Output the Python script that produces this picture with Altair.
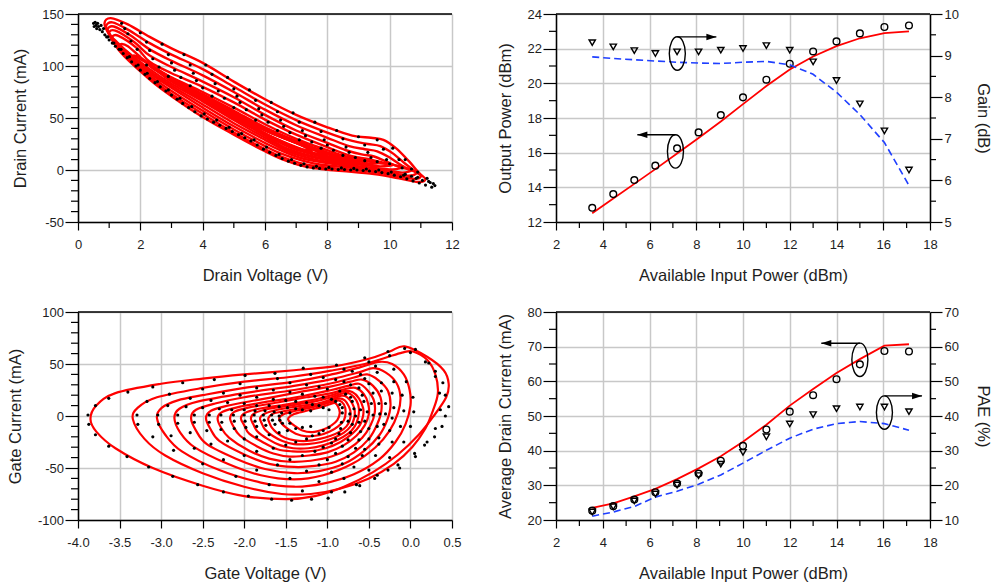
import altair as alt
import pandas as pd

W, H = 374, 208
FONT = "Liberation Sans"
INK = "#1e1e1e"

# ---------------- tick values ----------------
dv_major = [0, 2, 4, 6, 8, 10, 12]
dv_minor = [1, 3, 5, 7, 9, 11]
di_major = [-50, 0, 50, 100, 150]
di_minor = [-40, -30, -20, -10, 10, 20, 30, 40, 60, 70, 80, 90, 110, 120, 130, 140]
gv_major = [-4.0, -3.5, -3.0, -2.5, -2.0, -1.5, -1.0, -0.5, 0.0, 0.5]
gi_major = [-100, -50, 0, 50, 100]
gi_minor = [-90, -80, -70, -60, -40, -30, -20, -10, 10, 20, 30, 40, 60, 70, 80, 90]
pin_major = [2, 4, 6, 8, 10, 12, 14, 16, 18]
pin_minor = [3, 5, 7, 9, 11, 13, 15, 17]
po_major = [12, 14, 16, 18, 20, 22, 24]
po_minor = [13, 15, 17, 19, 21, 23]
g_major = [5, 6, 7, 8, 9, 10]
g_minor = [5.5, 6.5, 7.5, 8.5, 9.5]
idc_major = [20, 30, 40, 50, 60, 70, 80]
idc_minor = [25, 35, 45, 55, 65, 75]
pae_major = [10, 20, 30, 40, 50, 60, 70]
pae_minor = [15, 25, 35, 45, 55, 65]

# ---------------- drain load lines (simulated loops, V / mA) ----------------
drain_sim_loops = [
    [(0.85,141),(1.05,146),(1.6,140),(2.3,128),(3.0,117),(4.0,103),(5.0,85),(6.0,68),(7.0,53),(8.0,41),(8.8,33),(9.4,31),(9.8,29),(10.2,21),(10.6,9),(10.95,-3),(11.15,-9),(10.9,-11.5),(10.3,-8),(9.5,-4),(8.5,-1),(7.8,1),(7.2,4),(6.5,11),(6.0,18),(5.0,34),(4.0,51),(3.0,71),(2.3,87),(1.4,112),(1.0,130)],
    [(0.9,138),(1.1,142),(1.6,135),(2.3,122),(3.0,111),(4.0,97),(5.0,80),(6.0,63),(7.0,48),(8.0,36),(8.8,28),(9.3,25),(9.7,23),(10.1,16),(10.5,6),(10.85,-2),(11.0,-6),(10.8,-8.5),(10.2,-5.5),(9.5,-2),(8.5,1),(7.8,3),(7.2,6),(6.5,13),(6.0,20),(5.0,36),(4.0,54),(3.0,73),(2.3,89),(1.5,111),(1.05,129)],
    [(0.95,135),(1.15,138),(1.7,129),(2.3,116),(3.0,105),(4.0,91),(5.0,75),(6.0,58),(7.0,43),(8.0,31),(8.7,23),(9.2,20),(9.6,18),(10.0,12),(10.4,4),(10.75,-1),(10.87,-3),(10.6,-5.5),(10.0,-2.5),(9.3,0),(8.5,3),(7.8,5),(7.2,9),(6.5,16),(6.0,23),(5.0,39),(4.0,57),(3.0,76),(2.3,91),(1.55,111),(1.1,127)],
    [(1.0,132),(1.2,134),(1.8,123),(2.3,110),(3.0,99),(4.0,85),(5.0,70),(6.0,53),(7.0,38),(8.0,26),(8.6,19),(9.1,15),(9.5,13),(9.9,8),(10.3,3),(10.7,0),(10.4,-2.5),(9.8,0),(9.1,2),(8.4,5),(7.7,8),(7.1,12),(6.5,19),(6.0,26),(5.0,42),(4.0,60),(3.0,79),(2.3,93),(1.6,111),(1.15,125)],
    [(1.1,128),(1.3,129),(1.9,117),(2.3,104),(3.0,93),(4.0,80),(5.0,65),(6.0,48.5),(7.0,34),(8.0,22),(8.6,15),(9.0,12),(9.4,10),(9.8,7),(10.2,4.5),(10.44,3),(10.1,0.5),(9.5,2),(8.9,4),(8.2,7),(7.6,10),(7.0,15),(6.5,21),(6.0,29),(5.0,45),(4.0,63),(3.0,81),(2.3,95),(1.7,110),(1.25,123)],
    [(1.35,120),(1.6,119),(2.3,101),(3.0,89),(4.0,75),(5.0,60),(6.0,44),(7.0,30),(8.0,19),(8.6,13),(9.1,10),(9.6,7),(10.1,5),(9.7,3.5),(9.1,5),(8.5,7),(7.9,10),(7.3,14),(6.7,20),(6.0,31),(5.0,48),(4.0,66),(3.0,83),(2.3,97),(1.7,111)],
    [(1.8,110),(2.1,106),(2.6,96),(3.0,88),(4.0,73),(5.0,57),(6.0,41),(7.0,28),(8.0,17),(8.7,11),(9.3,8.5),(9.7,7),(9.3,6),(8.7,7.5),(8.0,10),(7.3,15),(6.6,22),(6.0,33),(5.0,50),(4.0,68),(3.0,85),(2.3,101)],
    [(2.3,100),(2.7,94),(3.2,85),(4.0,72),(5.0,56),(6.0,40),(7.0,27),(8.0,16),(8.8,10),(9.3,8),(8.8,8.5),(8.1,11),(7.4,16),(6.7,23),(6.0,34),(5.0,51),(4.0,69),(3.2,84),(2.7,92)],
    [(2.8,90),(3.2,84),(4.0,71),(5.0,55),(6.0,39),(7.0,26),(8.0,15.5),(8.9,9.5),(8.3,11.5),(7.5,16),(6.8,23),(6.0,35),(5.0,52),(4.0,69),(3.3,81)],
    [(3.3,80),(4.0,70),(5.0,54),(6.0,38),(7.0,26),(7.9,16),(8.5,11),(7.9,13),(7.2,19),(6.5,27),(6.0,35),(5.0,52),(4.0,68)],
    [(3.8,72),(4.5,62),(5.5,46),(6.5,32),(7.5,20),(8.0,14),(7.5,17),(6.8,24),(6.0,35),(5.0,51),(4.3,64)],
    [(4.4,62),(5.0,54),(6.0,38),(7.0,26),(7.5,18),(7.0,22),(6.0,35),(5.0,50)],
]

# measured drain samples (V, mA)
drain_meas_edge = [
    (0.5,141),(0.52,138),(0.55,142),(0.58,139),(0.6,136),(0.63,141),(0.66,138),(0.7,135),(0.74,139),(0.78,133),
    (0.82,136),(0.86,130),(0.92,128),(1.0,125),(1.1,122),(1.2,119),(1.32,116),(1.45,112),(1.58,108),(1.72,104),
    (1.86,100),(2.0,96),(2.15,92),(2.3,88),(2.47,84),(2.64,80),(2.82,76),(3.0,72),(3.18,68),(3.36,64),(3.55,60),
    (3.75,56),(3.95,52),(4.15,49),(4.35,46),(4.55,43),(4.75,40),(4.95,37),(5.15,34),(5.35,31),(5.55,28),(5.75,24),
    (5.95,20),(6.15,17),(6.35,14),(6.55,11),(6.75,8.5),(6.95,6.5),(7.15,4.5),(7.35,3),(7.55,2),(7.75,1.5),(7.95,1),
    (8.15,1),(8.35,0.5),(8.55,0.5),(8.75,0),(8.95,0),(9.15,-0.5),(9.35,-1),(9.55,-1.5),(9.75,-2.5),(9.95,-3.5),
    (10.15,-5),(10.35,-6.5),(10.55,-8.5),(10.75,-10.5),(10.95,-12.5),(11.15,-14.5),(11.35,-16.5),
    (0.96,128),(1.15,122),(1.38,116),(1.65,109),(1.93,101),(2.22,93),(2.55,85),(2.9,77),(3.27,69),(3.65,61),
    (4.05,54),(4.45,48),(4.85,41),(5.25,35),(5.65,29),(6.05,22),(6.45,15),(6.85,10),(7.25,6),(7.65,3.5),(8.05,2.5),
    (8.45,2),(8.85,1.5),(9.25,1),(9.65,0),(10.05,-2),(10.45,-5),(10.85,-8),(11.25,-11),(11.4,-13),
    (11.2,-8),(11.3,-12),(11.45,-15),(11.05,-10),(10.9,-7),(10.7,-6),(10.5,-4),
]
drain_meas_upper = [
    (1.4,141),(2.0,132),(2.7,121),(3.4,111),(4.1,101),(4.8,89),(5.5,77),(6.2,65),(6.9,55),(7.6,46),(8.3,38),(9.0,32),(9.6,29),(10.1,21),(10.5,10),(10.9,-2),
    (1.5,136),(2.2,123),(2.9,111),(3.6,101),(4.3,92),(5.0,78),(5.7,67),(6.4,56),(7.1,46),(7.8,37),(8.5,30),(9.2,24),(9.8,20),(10.3,10),(10.7,1),
    (1.6,131),(2.3,115),(3.0,103),(3.7,93),(4.4,83),(5.1,71),(5.8,59),(6.5,48),(7.2,38),(7.9,29),(8.6,22),(9.3,17),(9.9,10),(10.4,2),
    (1.7,124),(2.4,107),(3.1,96),(3.8,86),(4.5,76),(5.2,65),(5.9,53),(6.6,42),(7.3,33),(8.0,24),(8.7,17),(9.4,12),(10.0,6),
    (1.9,116),(2.6,99),(3.3,89),(4.0,79),(4.7,69),(5.4,58),(6.1,46),(6.8,36),(7.5,27),(8.2,19),(8.9,12),(9.6,8),
    (2.2,101),(2.9,90),(3.6,81),(4.3,71),(5.0,60),(5.7,48),(6.4,38),(7.1,29),(7.8,21),(8.5,14),(9.2,9),
]

# ---------------- gate loops (simulated, V / mA) ----------------
gate_sim_loops = [
    [(-3.85,-3),(-3.78,10),(-3.55,22),(-3.0,31),(-2.5,36),(-2.0,40),(-1.4,44),(-0.9,48),(-0.5,55),(-0.25,62),(-0.07,67),(0.2,57),(0.4,44),(0.46,31),(0.43,18),(0.28,0),(0.1,-18),(-0.15,-37),(-0.45,-54),(-0.8,-68),(-1.15,-77),(-1.5,-80),(-2.0,-77),(-2.5,-67),(-3.1,-50),(-3.55,-31),(-3.78,-15)],
    [(-3.34,-3),(-3.28,8),(-3.05,18),(-2.5,27),(-2.0,33),(-1.4,38),(-0.93,44),(-0.55,50),(-0.3,56),(-0.1,61),(0.03,62),(0.2,54),(0.3,40),(0.33,22),(0.27,5),(0.18,-12),(0.02,-30),(-0.2,-46),(-0.5,-60),(-0.85,-70),(-1.2,-75),(-1.55,-75),(-2.0,-68),(-2.5,-55),(-2.95,-38),(-3.2,-22)],
    [(-3.05,-2),(-2.99,8),(-2.8,15),(-2.5,20),(-2.0,27),(-1.4,33),(-0.95,40),(-0.6,47),(-0.38,52),(-0.22,50),(-0.08,40),(-0.01,25),(0.0,10),(-0.06,-8),(-0.18,-25),(-0.38,-42),(-0.68,-56),(-1.05,-65),(-1.4,-68),(-1.8,-64),(-2.3,-52),(-2.75,-34),(-2.95,-18)],
    [(-2.84,-2),(-2.78,7),(-2.55,14),(-2.0,22),(-1.4,29),(-0.95,35.5),(-0.62,42),(-0.45,46),(-0.3,42),(-0.17,32),(-0.12,18),(-0.15,3),(-0.25,-14),(-0.42,-30),(-0.7,-46),(-1.05,-57),(-1.4,-61),(-1.8,-57),(-2.2,-46),(-2.6,-30),(-2.77,-16)],
    [(-2.64,-2),(-2.58,6),(-2.35,12),(-2.0,18),(-1.4,25),(-0.95,31.5),(-0.68,37),(-0.52,40),(-0.38,34),(-0.27,24),(-0.24,10),(-0.28,-4),(-0.37,-18),(-0.55,-33),(-0.8,-46),(-1.1,-53),(-1.4,-55),(-1.75,-51),(-2.1,-41),(-2.45,-27),(-2.58,-14)],
    [(-2.46,-2),(-2.4,5),(-2.2,10),(-1.8,16),(-1.4,22),(-0.95,28.5),(-0.72,33),(-0.58,35),(-0.45,29),(-0.36,18),(-0.35,5),(-0.4,-8),(-0.5,-22),(-0.68,-35),(-0.9,-44),(-1.15,-48),(-1.4,-49),(-1.7,-46),(-2.0,-37),(-2.3,-24),(-2.41,-12)],
    [(-2.32,-2),(-2.26,4),(-2.05,9),(-1.7,14),(-1.3,19),(-0.95,25),(-0.75,29),(-0.62,31),(-0.52,25),(-0.44,15),(-0.43,3),(-0.48,-9),(-0.58,-21),(-0.75,-32),(-0.95,-39),(-1.2,-43),(-1.45,-44),(-1.7,-41),(-1.95,-33),(-2.18,-21),(-2.28,-11)],
    [(-2.17,-2),(-2.12,4),(-1.95,8),(-1.6,13),(-1.25,18),(-0.95,22),(-0.78,26),(-0.66,27),(-0.56,21),(-0.51,12),(-0.5,2),(-0.55,-9),(-0.65,-19),(-0.8,-28),(-1.0,-35),(-1.22,-38),(-1.45,-39),(-1.65,-36),(-1.85,-29),(-2.05,-19),(-2.13,-10)],
    [(-2.04,-2),(-1.99,3),(-1.82,7),(-1.5,11),(-1.2,15),(-0.95,20),(-0.8,24),(-0.7,23),(-0.62,17),(-0.57,8),(-0.57,0),(-0.61,-9),(-0.7,-17),(-0.84,-25),(-1.02,-31),(-1.22,-34),(-1.42,-34),(-1.6,-32),(-1.78,-25),(-1.94,-17),(-2.0,-9)],
    [(-1.92,-2),(-1.87,3),(-1.7,7),(-1.45,10),(-1.15,14),(-0.95,18),(-0.8,22),(-0.72,21),(-0.65,15),(-0.62,7),(-0.63,-2),(-0.67,-10),(-0.75,-17),(-0.88,-23),(-1.04,-28),(-1.23,-31),(-1.41,-31),(-1.57,-28),(-1.72,-22),(-1.84,-15),(-1.89,-8)],
    [(-1.81,-2),(-1.76,2),(-1.6,6),(-1.38,9),(-1.12,12),(-0.95,16),(-0.83,19.5),(-0.76,18),(-0.7,12),(-0.67,5),(-0.68,-3),(-0.72,-10),(-0.8,-16),(-0.92,-21),(-1.07,-25),(-1.24,-27),(-1.4,-27),(-1.54,-24),(-1.66,-19),(-1.75,-13),(-1.79,-7)],
    [(-1.71,-2),(-1.66,2),(-1.5,5),(-1.3,8),(-1.1,11),(-0.95,14.5),(-0.86,17),(-0.79,15),(-0.74,9),(-0.72,3),(-0.73,-4),(-0.77,-10),(-0.85,-15),(-0.96,-19),(-1.09,-22),(-1.25,-24),(-1.39,-23.5),(-1.51,-21),(-1.61,-16),(-1.67,-11),(-1.7,-6)],
    [(-1.58,-2),(-1.52,2),(-1.38,5),(-1.2,8),(-1.05,11),(-0.93,14),(-0.86,15),(-0.8,11),(-0.78,4),(-0.8,-4),(-0.87,-10),(-0.97,-15),(-1.1,-18.5),(-1.25,-19.5),(-1.38,-17),(-1.5,-11),(-1.56,-6)],
    [(-1.47,-2),(-1.4,2),(-1.25,5),(-1.1,8),(-0.98,11),(-0.91,12.5),(-0.87,9),(-0.85,3),(-0.88,-4),(-0.95,-9),(-1.05,-13),(-1.18,-15.5),(-1.3,-14),(-1.4,-9),(-1.46,-5)],
]

# measured gate samples (V, mA)
gate_meas_points = [
    (-3.88,1),(-3.87,-8),(-3.79,10),(-3.79,-18),(-3.63,17),(-3.63,-29),(-3.4,23),(-3.41,-39),(-3.1,28),(-3.15,-49),(-2.74,32),(-2.86,-58),(-2.36,35),(-2.56,-66),(-1.99,39),(-2.25,-73),(-1.63,41),(-1.95,-77),(-1.29,46),(-1.67,-80),(-0.89,49),(-1.43,-81),(-0.55,56),(-1.19,-80),(-0.27,62),(-0.99,-79),(-0.07,65),(-0.79,-73),(0.06,64),(-0.61,-67),(0.22,51),(-0.43,-60),(0.3,43),(-0.27,-52),(0.39,32),(-0.13,-50),(0.42,20),(0.06,-39),(0.46,9),(0.17,-28),(0.42,0),(0.29,-20),(0.38,-10),
    (-3.29,1),(-3.28,-8),(-3.17,14),(-3.1,-20),(-2.9,21),(-2.85,-33),(-2.5,26),(-2.5,-46),(-2.05,31),(-2.1,-58),(-1.6,36),(-1.7,-66),(-1.2,40),(-1.3,-72),(-0.8,45),(-0.95,-73),(-0.5,52),(-0.65,-66),(-0.25,58),(-0.4,-57),(0.0,61),(-0.15,-47),(0.18,52),(0.05,-36),(0.3,38),(0.2,-25),(0.35,22),(0.3,-12),(0.36,6),
    (-3.04,1),(-3.03,-8),(-2.92,10),(-2.88,-19),(-2.65,17),(-2.6,-31),(-2.25,22),(-2.25,-42),(-1.85,27),(-1.85,-52),(-1.45,32),(-1.45,-60),(-1.05,37),(-1.1,-63),(-0.7,43),(-0.8,-60),(-0.42,48),(-0.5,-52),(-0.2,45),(-0.25,-40),(-0.05,33),(-0.08,-25),(0.03,18),(0.0,-10),(0.04,4),
    (-2.8,1),(-2.8,-7),(-2.7,9),(-2.65,-16),(-2.4,15),(-2.4,-27),(-2.05,20),(-2.0,-38),(-1.65,25),(-1.6,-47),(-1.25,30),(-1.25,-53),(-0.9,35),(-0.95,-54),(-0.6,40),(-0.68,-49),(-0.4,42),(-0.42,-38),(-0.2,33),(-0.22,-25),(-0.1,20),(-0.12,-10),(-0.08,5),
    (-2.6,1),(-2.6,-6),(-2.5,8),(-2.45,-14),(-2.2,13),(-2.2,-24),(-1.85,18),(-1.85,-34),(-1.45,23),(-1.45,-42),(-1.1,28),(-1.1,-47),(-0.8,33),(-0.82,-46),(-0.55,36),(-0.58,-38),(-0.35,32),(-0.38,-27),(-0.22,22),(-0.25,-14),(-0.2,8),(-0.22,-2),
    (-2.42,1),(-2.42,-6),(-2.3,7),(-2.28,-13),(-2.0,12),(-2.0,-22),(-1.65,16),(-1.65,-31),(-1.3,21),(-1.3,-38),(-1.0,26),(-1.0,-42),(-0.72,30),(-0.75,-39),(-0.5,31),(-0.55,-32),(-0.35,24),(-0.38,-21),(-0.3,12),(-0.32,-8),(-0.3,2),
    (-2.28,1),(-2.27,-6),(-2.15,6),(-2.12,-12),(-1.85,10),(-1.85,-20),(-1.5,15),(-1.5,-28),(-1.15,19),(-1.15,-34),(-0.85,24),(-0.9,-36),(-0.62,27),(-0.66,-31),(-0.45,22),(-0.5,-22),(-0.38,12),(-0.4,-10),(-0.37,2),
    (-2.13,1),(-2.12,-5),(-2.0,6),(-1.98,-11),(-1.7,10),(-1.7,-18),(-1.38,14),(-1.38,-25),(-1.05,18),(-1.05,-30),(-0.78,21),(-0.82,-29),(-0.58,20),(-0.62,-23),(-0.47,12),(-0.5,-12),(-0.45,1),
    (-2.0,1),(-1.99,-5),(-1.87,5),(-1.85,-10),(-1.58,9),(-1.58,-16),(-1.25,13),(-1.25,-22),(-0.95,16),(-0.95,-26),(-0.72,18),(-0.75,-23),(-0.56,14),(-0.6,-15),(-0.52,4),(-0.55,-5),
    (-1.88,1),(-1.87,-5),(-1.75,5),(-1.74,-9),(-1.48,8),(-1.48,-14),(-1.18,11),(-1.18,-19),(-0.9,14),(-0.9,-22),(-0.7,14),(-0.72,-16),(-0.6,6),(-0.62,-6),
    (-1.77,1),(-1.76,-4),(-1.64,4),(-1.63,-8),(-1.38,7),(-1.38,-12),(-1.1,10),(-1.1,-17),(-0.85,11),(-0.86,-17),(-0.68,7),(-0.7,-8),(-0.66,0),
    (-1.67,1),(-1.66,-4),(-1.55,3),(-1.54,-7),(-1.3,6),(-1.3,-11),(-1.05,8),(-1.05,-14),(-0.82,8),(-0.84,-12),(-0.73,2),(-0.75,-5),
    (-1.58,0),(-1.57,-4),(-1.45,3),(-1.45,-7),(-1.2,5),(-1.2,-10),(-0.98,6),(-0.98,-11),(-0.82,3),(-0.83,-6),
]

# ---------------- power sweep ----------------
pin_dbm = [3.55, 4.45, 5.35, 6.25, 7.18, 8.1, 9.05, 10.0, 11.0, 12.0, 13.0, 14.0, 15.0, 16.05, 17.1]
pout_meas = [12.82, 13.61, 14.42, 15.25, 16.25, 17.17, 18.17, 19.19, 20.21, 21.13, 21.84, 22.42, 22.88, 23.25, 23.34]
pout_sim = [12.5, 13.35, 14.2, 15.05, 15.95, 16.85, 17.8, 18.8, 19.85, 20.8, 21.55, 22.15, 22.6, 22.9, 23.0]
gain_meas = [9.31, 9.21, 9.12, 9.05, 9.09, 9.09, 9.13, 9.17, 9.24, 9.13, 8.85, 8.40, 7.84, 7.19, 6.25]
gain_sim = [8.97, 8.93, 8.90, 8.87, 8.84, 8.82, 8.81, 8.84, 8.86, 8.78, 8.55, 8.12, 7.58, 6.91, 5.88]
idc_meas = [22.7, 24.0, 25.9, 28.0, 30.5, 33.4, 37.1, 41.4, 46.1, 51.25, 56.0, 60.6, 64.9, 68.75, 68.6]
idc_sim = [23.5, 24.8, 26.8, 29.0, 31.8, 34.9, 38.4, 42.6, 47.5, 53.0, 57.8, 62.4, 66.4, 70.3, 70.7]
pae_meas = [12.3, 13.8, 15.5, 17.5, 20.1, 22.8, 26.1, 29.5, 34.0, 37.7, 40.4, 42.1, 42.6, 42.6, 41.25]
pae_sim = [11.1, 12.3, 13.9, 16.6, 18.3, 20.3, 23.0, 26.4, 30.1, 33.6, 36.2, 37.8, 38.4, 37.8, 35.9]

# callouts: ellipse centre (x, y), arrow height, arrow tip x
callout_pout = (7.11, 16.07, 17.03, 5.48)
callout_gain = (7.19, 9.05, 9.45, 8.86)
callout_idc = (15.0, 66.2, 71.0, 13.35)
callout_pae = (16.05, 41.0, 45.8, 17.66)

# ---------------- helpers ----------------
NEG_INT = "datum.value < 0 ? '-' + abs(datum.value) : '' + datum.value"
NEG_1F = "(datum.value < 0 ? '-' : '') + format(abs(datum.value), '.1f')"
ELLIPSE = ("M0,-1C0.265,-1,0.48,-0.552,0.48,0C0.48,0.552,0.265,1,0,1"
           "C-0.265,1,-0.48,0.552,-0.48,0C-0.48,-0.552,-0.265,-1,0,-1Z")
HEAD_R = "M0,0L-2,-0.65L-2,0.65Z"
HEAD_L = "M0,0L2,-0.65L2,0.65Z"


def loops_frame(loops, xn, yn):
    rows = []
    for k, pts in enumerate(loops):
        for i, (a, b) in enumerate(pts):
            rows.append({"loop": k, "i": i, xn: a, yn: b})
    return pd.DataFrame(rows)


def axis_x(values, title, label_expr=NEG_INT):
    return alt.Axis(values=values, title=title, tickSize=8, labelPadding=8.5,
                    labelFlush=False, labelOverlap=False, grid=True, labelExpr=label_expr,
                    titleX=W / 2, titleY=53, titleAngle=0, titleAlign="center",
                    titleBaseline="middle")


def axis_yl(values, title, title_x):
    return alt.Axis(values=values, title=title, orient="left", tickSize=13, labelPadding=1.5,
                    labelFlush=False, labelOverlap=False, grid=True, labelExpr=NEG_INT,
                    titleX=title_x, titleY=H / 2, titleAngle=270, titleAlign="center",
                    titleBaseline="middle")


def axis_yr(values, title, title_x):
    return alt.Axis(values=values, title=title, orient="right", tickSize=12, labelPadding=2,
                    labelFlush=False, labelOverlap=False, grid=False, labelExpr=NEG_INT,
                    titleX=title_x, titleY=H / 2, titleAngle=90, titleAlign="center",
                    titleBaseline="middle")


def ticks_y(values, scale, ax, x0, x1):
    return alt.Chart(pd.DataFrame({"v": values})).mark_rule(color="black", strokeWidth=1.2).encode(
        y=alt.Y("v:Q", scale=scale, axis=ax), x=alt.value(x0), x2=alt.value(x1))


def ticks_x(values, scale, ax, size=6):
    return alt.Chart(pd.DataFrame({"v": values})).mark_rule(color="black", strokeWidth=1.2).encode(
        x=alt.X("v:Q", scale=scale, axis=ax), y=alt.value(H), y2=alt.value(H + size))


def top_border():
    return alt.Chart(pd.DataFrame({"z": [0]})).mark_rule(color="black", strokeWidth=1.5).encode(
        x=alt.value(0), x2=alt.value(W), y=alt.value(0))


def callout(spec, xs, ys, axx, axy):
    cx, cy, ay, tip = spec
    e = alt.Chart(pd.DataFrame({"x": [cx], "y": [cy]})).mark_point(
        shape=ELLIPSE, size=1115, color="black", strokeWidth=1.4, opacity=1, filled=False).encode(
        x=alt.X("x:Q", scale=xs, axis=axx), y=alt.Y("y:Q", scale=ys, axis=axy))
    s = alt.Chart(pd.DataFrame({"x0": [cx], "x1": [tip], "y": [ay]})).mark_rule(
        color="black", strokeWidth=1.4).encode(
        x=alt.X("x0:Q", scale=xs, axis=axx), x2="x1:Q", y=alt.Y("y:Q", scale=ys, axis=axy))
    h = alt.Chart(pd.DataFrame({"x": [tip], "y": [ay]})).mark_point(
        shape=HEAD_R if tip > cx else HEAD_L, size=100, filled=True, color="black", opacity=1,
        strokeWidth=0.5).encode(
        x=alt.X("x:Q", scale=xs, axis=axx), y=alt.Y("y:Q", scale=ys, axis=axy))
    return [e, s, h]


# ---------------- top-left: drain load lines ----------------
xs_dv = alt.Scale(domain=[0, 12], nice=False, zero=False)
ys_di = alt.Scale(domain=[-50, 150], nice=False, zero=False)
ax_dv = axis_x(dv_major, "Drain Voltage (V)")
ax_di = axis_yl(di_major, "Drain Current (mA)", -58)
drain_pts = pd.DataFrame(drain_meas_edge + drain_meas_upper, columns=["V", "I"])

tl = alt.layer(
    alt.Chart(loops_frame(drain_sim_loops, "V", "I")).mark_line(
        color="#ff0000", strokeWidth=2.4, interpolate="cardinal-closed").encode(
        x=alt.X("V:Q", scale=xs_dv, axis=ax_dv),
        y=alt.Y("I:Q", scale=ys_di, axis=ax_di),
        detail="loop:N", order="i:Q"),
    alt.Chart(drain_pts).mark_circle(color="black", size=10, opacity=1).encode(
        x=alt.X("V:Q", scale=xs_dv, axis=ax_dv), y=alt.Y("I:Q", scale=ys_di, axis=ax_di)),
    ticks_x(dv_minor, xs_dv, ax_dv), ticks_y(di_minor, ys_di, ax_di, -7, 0), top_border(),
).properties(width=W, height=H)

# ---------------- bottom-left: gate loops ----------------
xs_gv = alt.Scale(domain=[-4, 0.5], nice=False, zero=False)
ys_gi = alt.Scale(domain=[-100, 100], nice=False, zero=False)
ax_gv = axis_x(gv_major, "Gate Voltage (V)", NEG_1F)
ax_gi = axis_yl(gi_major, "Gate Current (mA)", -63)
gate_pts = pd.DataFrame(gate_meas_points, columns=["V", "I"])

bl = alt.layer(
    alt.Chart(loops_frame(gate_sim_loops, "V", "I")).mark_line(
        color="#ff0000", strokeWidth=2.2, interpolate="cardinal-closed").encode(
        x=alt.X("V:Q", scale=xs_gv, axis=ax_gv),
        y=alt.Y("I:Q", scale=ys_gi, axis=ax_gi),
        detail="loop:N", order="i:Q"),
    alt.Chart(gate_pts).mark_circle(color="black", size=10, opacity=1).encode(
        x=alt.X("V:Q", scale=xs_gv, axis=ax_gv), y=alt.Y("I:Q", scale=ys_gi, axis=ax_gi)),
    ticks_y(gi_minor, ys_gi, ax_gi, -7, 0), top_border(),
).properties(width=W, height=H)

# ---------------- right panels ----------------
xs_p = alt.Scale(domain=[2, 18], nice=False, zero=False)
ax_p = axis_x(pin_major, "Available Input Power (dBm)")
sweep = pd.DataFrame({"pin": pin_dbm, "pout_meas": pout_meas, "pout_sim": pout_sim,
                      "gain_meas": gain_meas, "gain_sim": gain_sim,
                      "idc_meas": idc_meas, "idc_sim": idc_sim,
                      "pae_meas": pae_meas, "pae_sim": pae_sim})


def dual_panel(yl_field, yr_field, yl_dom, yr_dom, yl_major, yl_minor, yr_major, yr_minor,
               yl_title, yr_title, co_left, co_right):
    ysl = alt.Scale(domain=yl_dom, nice=False, zero=False)
    ysr = alt.Scale(domain=yr_dom, nice=False, zero=False)
    axl = axis_yl(yl_major, yl_title, -51)
    axr = axis_yr(yr_major, yr_title, 52)
    left = alt.layer(
        alt.Chart(sweep).mark_line(color="#ff0000", strokeWidth=1.8).encode(
            x=alt.X("pin:Q", scale=xs_p, axis=ax_p),
            y=alt.Y(yl_field + "_sim:Q", scale=ysl, axis=axl)),
        alt.Chart(sweep).mark_point(shape="circle", size=45, color="black", strokeWidth=1.4,
                                    opacity=1, filled=False).encode(
            x=alt.X("pin:Q", scale=xs_p, axis=ax_p),
            y=alt.Y(yl_field + "_meas:Q", scale=ysl, axis=axl)),
        ticks_x(pin_minor, xs_p, ax_p), ticks_y(yl_minor, ysl, axl, -7, 0), top_border(),
        *callout(co_left, xs_p, ysl, ax_p, axl),
    )
    right = alt.layer(
        alt.Chart(sweep).mark_line(color="#1f3fff", strokeWidth=1.6, strokeDash=[7, 4]).encode(
            x=alt.X("pin:Q", scale=xs_p, axis=ax_p),
            y=alt.Y(yr_field + "_sim:Q", scale=ysr, axis=axr)),
        alt.Chart(sweep).mark_point(shape="triangle-down", size=40, color="black", strokeWidth=1.4,
                                    opacity=1, filled=False).encode(
            x=alt.X("pin:Q", scale=xs_p, axis=ax_p),
            y=alt.Y(yr_field + "_meas:Q", scale=ysr, axis=axr)),
        ticks_y(yr_minor, ysr, axr, W, W + 6),
        *callout(co_right, xs_p, ysr, ax_p, axr),
    )
    return alt.layer(left, right).resolve_scale(y="independent").properties(width=W, height=H)


tr = dual_panel("pout", "gain", [12, 24], [5, 10], po_major, po_minor, g_major, g_minor,
                "Output Power (dBm)", "Gain (dB)", callout_pout, callout_gain)
br = dual_panel("idc", "pae", [20, 80], [10, 70], idc_major, idc_minor, pae_major, pae_minor,
                "Average Drain Current (mA)", "PAE (%)", callout_idc, callout_pae)

chart = alt.concat(
    tl, tr, bl, br, columns=2, bounds="flush",
    spacing=alt.RowColnumber(row=90, column=104),
).properties(
    padding={"left": 7, "top": 8, "right": 2, "bottom": 2}
).configure_view(stroke=None).configure_axis(
    domainColor="black", domainWidth=1.5, tickColor="black", tickWidth=1.2,
    gridColor="#c8c8c8", gridWidth=1.5,
    labelFont=FONT, labelFontSize=13, labelColor=INK,
    titleFont=FONT, titleFontSize=16.5, titleFontWeight="normal", titleColor=INK,
)

chart.save("out.html", embed_options={"renderer": "svg", "actions": False})
